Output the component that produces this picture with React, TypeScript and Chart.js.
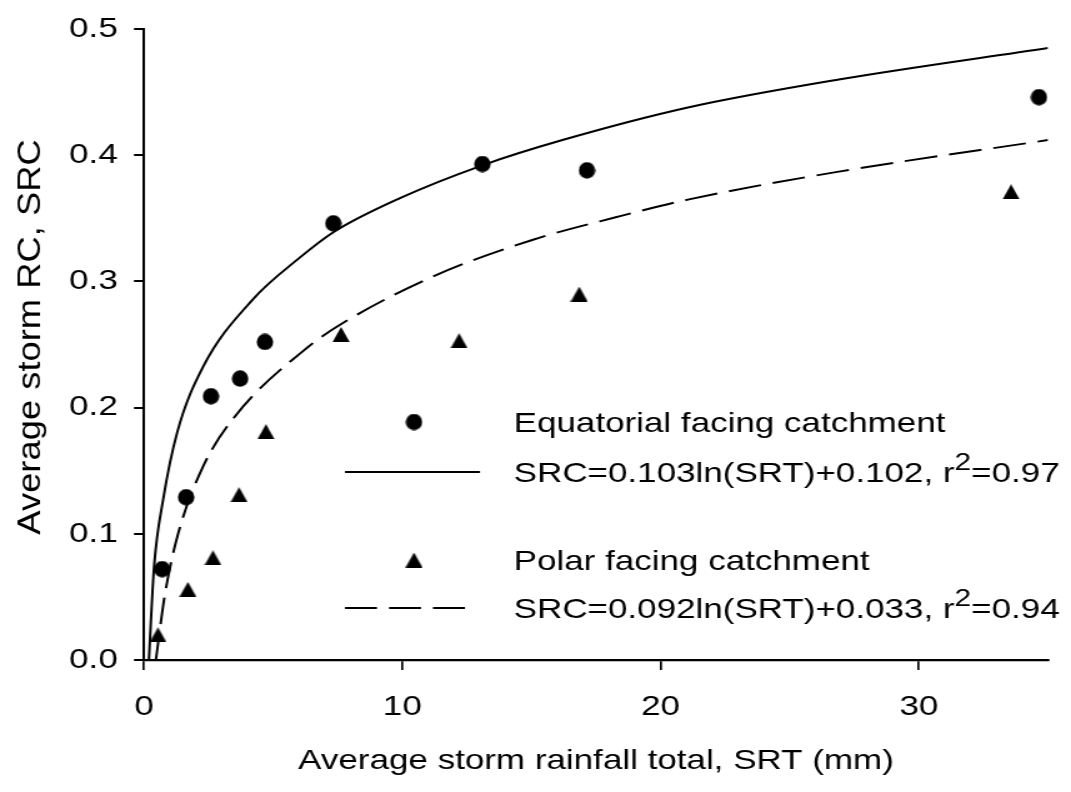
import React, { useEffect, useRef } from 'react';
import { Chart, registerables } from 'chart.js';

Chart.register(...registerables);

// ---- data ----
const equatorialX = [0.70, 1.63, 2.59, 3.72, 4.68, 7.33, 13.1, 17.15, 34.65];
const equatorialY = [0.072, 0.129, 0.209, 0.223, 0.252, 0.346, 0.393, 0.388, 0.446];

const polarX = [0.54, 1.70, 2.67, 3.68, 4.72, 7.63, 12.2, 16.85, 33.57];
const polarY = [0.020, 0.056, 0.081, 0.131, 0.181, 0.258, 0.253, 0.290, 0.371];

const equatorialFitX = [0.19, 0.39, 0.74, 1.28, 2.28, 4.18, 6.04, 7.33, 9.91, 13.1, 16.2, 21.1, 26.9, 35];
const equatorialFitY = [0, 0.074, 0.127, 0.180, 0.232, 0.285, 0.319, 0.339, 0.366, 0.392, 0.412, 0.438, 0.460, 0.485];

const polarFitX = [0.46, 0.81, 1.32, 2.28, 3.52, 6.35, 7.7, 11.2, 15.06, 18.3, 21.1, 26.9, 35];
const polarFitY = [0, 0.052, 0.100, 0.153, 0.193, 0.248, 0.267, 0.304, 0.333, 0.351, 0.365, 0.387, 0.412];

const xTickValues = [0, 10, 20, 30];
const xTickLabels = ['0', '10', '20', '30'];
const yTickValues = [0, 0.1, 0.2, 0.3, 0.4, 0.5];
const yTickLabels = ['0.0', '0.1', '0.2', '0.3', '0.4', '0.5'];

const xTitle = 'Average storm rainfall total, SRT (mm)';
const yTitle = 'Average storm RC, SRC';
const legendEquatorial = 'Equatorial facing catchment';
const legendEquatorialFit = ['SRC=0.103ln(SRT)+0.102, r', '2', '=0.97'];
const legendPolar = 'Polar facing catchment';
const legendPolarFit = ['SRC=0.092ln(SRT)+0.033, r', '2', '=0.94'];

// ---- layout ----
const SCREEN_W = 1071;
const SCREEN_H = 792;
const CANVAS_W = 857; // drawn narrower, shown stretched (wide glyphs as in the reference)
const S = SCREEN_W / CANVAS_W;
const FONT = '"Liberation Sans", Arial, Helvetica, sans-serif';

function makeCircle(): HTMLCanvasElement {
  const c = document.createElement('canvas');
  c.width = 14;
  c.height = 17;
  const g = c.getContext('2d')!;
  g.fillStyle = '#000';
  g.beginPath();
  g.ellipse(7, 8.5, 6.6, 8.25, 0, 0, Math.PI * 2);
  g.fill();
  return c;
}

function makeTriangle(): HTMLCanvasElement {
  const c = document.createElement('canvas');
  c.width = 14;
  c.height = 15;
  const g = c.getContext('2d')!;
  g.fillStyle = '#000';
  g.beginPath();
  g.moveTo(7, 0);
  g.lineTo(13.8, 15);
  g.lineTo(0.2, 15);
  g.closePath();
  g.fill();
  return c;
}

function drawSupRow(ctx: CanvasRenderingContext2D, parts: string[], x: number, baseline: number) {
  let cx = x;
  ctx.font = `28px ${FONT}`;
  ctx.fillText(parts[0], cx, baseline);
  cx += ctx.measureText(parts[0]).width;
  ctx.font = `24px ${FONT}`;
  ctx.fillText(parts[1], cx, baseline - 12);
  cx += ctx.measureText(parts[1]).width;
  ctx.font = `28px ${FONT}`;
  ctx.fillText(parts[2], cx, baseline);
}

export default function App() {
  const ref = useRef<HTMLCanvasElement>(null);

  useEffect(() => {
    if (!ref.current) return;
    const circle = makeCircle();
    const tri = makeTriangle();

    const overlay = {
      id: 'overlay',
      afterDraw(chart: any) {
        const ctx: CanvasRenderingContext2D = chart.ctx;
        ctx.save();
        ctx.fillStyle = '#000';
        ctx.strokeStyle = '#000';
        ctx.textAlign = 'left';
        ctx.textBaseline = 'alphabetic';

        const mx = 414 / S;
        const lx0 = 345 / S;
        const lx1 = 480 / S;
        const dx1 = 468 / S;
        const tx = 411;

        // row 1: circle
        ctx.drawImage(circle, mx - circle.width / 2, 422 - circle.height / 2);
        ctx.font = `28px ${FONT}`;
        ctx.fillText(legendEquatorial, tx, 432);

        // row 2: solid line
        ctx.lineWidth = 2;
        ctx.setLineDash([]);
        ctx.beginPath();
        ctx.moveTo(lx0, 472);
        ctx.lineTo(lx1, 472);
        ctx.stroke();
        drawSupRow(ctx, legendEquatorialFit, tx, 482);

        // row 3: triangle
        ctx.drawImage(tri, mx - tri.width / 2, 560 - tri.height / 2);
        ctx.font = `28px ${FONT}`;
        ctx.fillText(legendPolar, tx, 570);

        // row 4: dashed line
        ctx.setLineDash([25.6, 9.6]);
        ctx.beginPath();
        ctx.moveTo(lx0, 608);
        ctx.lineTo(dx1, 608);
        ctx.stroke();
        ctx.setLineDash([]);
        drawSupRow(ctx, legendPolarFit, tx, 618);

        ctx.restore();

        // y axis title (rotated)
        ctx.save();
        ctx.translate(40 / S, 337);
        ctx.scale(1 / S, 1);
        ctx.rotate(-Math.PI / 2);
        ctx.scale(1.136, 1);
        ctx.font = `32px ${FONT}`;
        ctx.fillStyle = '#000';
        ctx.textAlign = 'center';
        ctx.textBaseline = 'alphabetic';
        ctx.fillText(yTitle, 0, 0);
        ctx.restore();
      },
    };

    const chart = new Chart(ref.current, {
      type: 'scatter',
      data: {
        datasets: [
          {
            label: 'Equatorial fit',
            data: equatorialFitX.map((x, i) => ({ x, y: equatorialFitY[i] })),
            showLine: true,
            borderColor: '#000',
            borderWidth: 2,
            pointRadius: 0,
            cubicInterpolationMode: 'monotone',
            fill: false,
          },
          {
            label: 'Polar fit',
            data: polarFitX.map((x, i) => ({ x, y: polarFitY[i] })),
            showLine: true,
            borderColor: '#000',
            borderWidth: 2,
            borderDash: [26.4, 9.6],
            pointRadius: 0,
            cubicInterpolationMode: 'monotone',
            fill: false,
          },
          {
            label: legendEquatorial,
            data: equatorialX.map((x, i) => ({ x, y: equatorialY[i] })),
            pointStyle: circle as any,
            pointRadius: 8,
            backgroundColor: '#000',
            borderColor: '#000',
          },
          {
            label: legendPolar,
            data: polarX.map((x, i) => ({ x, y: polarY[i] })),
            pointStyle: tri as any,
            pointRadius: 8,
            backgroundColor: '#000',
            borderColor: '#000',
          },
        ],
      } as any,
      options: {
        responsive: false,
        animation: false,
        devicePixelRatio: 1,
        events: [],
        layout: { padding: { top: 29, right: CANVAS_W - 1048 / S, left: 0, bottom: 0 } },
        plugins: {
          legend: { display: false },
          tooltip: { enabled: false },
        },
        scales: {
          x: {
            type: 'linear',
            min: 0,
            max: 35,
            afterBuildTicks: (axis: any) => {
              axis.ticks = xTickValues.map((v) => ({ value: v }));
            },
            afterFit: (axis: any) => {
              axis.height = SCREEN_H - 660;
              axis.paddingLeft = 0;
              axis.paddingRight = 0;
            },
            ticks: {
              callback: (_v: any, i: number) => xTickLabels[i],
              color: '#000',
              font: { family: FONT, size: 28 },
              padding: 20,
              maxRotation: 0,
              autoSkip: false,
            },
            grid: {
              drawOnChartArea: false,
              drawTicks: true,
              tickLength: 10,
              tickWidth: 1.7,
              tickColor: '#000',
              color: '#000',
              lineWidth: 1.7,
            },
            border: { display: true, color: '#000', width: 2.2 },
            title: {
              display: true,
              text: xTitle,
              color: '#000',
              font: { family: FONT, size: 28 },
              padding: { top: 0, bottom: 14 },
            },
          },
          y: {
            type: 'linear',
            min: 0,
            max: 0.5,
            afterBuildTicks: (axis: any) => {
              axis.ticks = yTickValues.map((v) => ({ value: v }));
            },
            afterFit: (axis: any) => {
              axis.width = 144 / S;
              axis.paddingTop = 0;
              axis.paddingBottom = 0;
            },
            ticks: {
              callback: (_v: any, i: number) => yTickLabels[i],
              color: '#000',
              font: { family: FONT, size: 28 },
              padding: 13,
              autoSkip: false,
            },
            grid: {
              drawOnChartArea: false,
              drawTicks: true,
              tickLength: 10 / S,
              tickWidth: 2,
              tickColor: '#000',
              color: '#000',
              lineWidth: 2,
            },
            border: { display: true, color: '#000', width: 2 },
            title: { display: false },
          },
        },
      } as any,
      plugins: [overlay],
    });

    return () => chart.destroy();
  }, []);

  return (
    <div
      style={{
        position: 'fixed',
        left: 0,
        top: 0,
        width: SCREEN_W,
        height: SCREEN_H,
        background: '#fff',
      }}
    >
      <canvas
        ref={ref}
        width={CANVAS_W}
        height={SCREEN_H}
        style={{ width: `${SCREEN_W}px`, height: `${SCREEN_H}px`, display: 'block' }}
      />
    </div>
  );
}
